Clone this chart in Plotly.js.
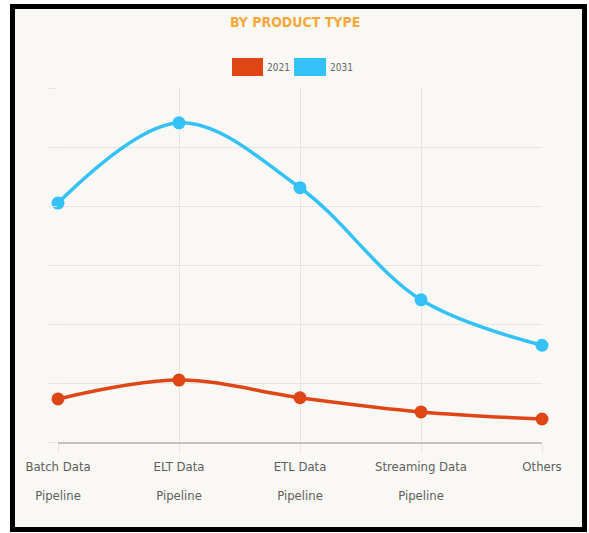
<!DOCTYPE html>
<html>
<head>
<meta charset="utf-8">
<script src="https://cdn.plot.ly/plotly-3.0.1.min.js"></script>
<style>
  html, body { margin: 0; padding: 0; background: #ffffff; width: 589px; height: 533px; overflow: hidden; }
  #frame { position: absolute; left: 10px; top: 4px; width: 567px; height: 518px; border: 5px solid #000000; background: #f9f8f4; }
  #chart { width: 567px; height: 518px; }
</style>
</head>
<body>
<div id="frame"><div id="chart"></div></div>
<script>
// ---- data ----
const categories = ["Batch Data Pipeline", "ELT Data Pipeline", "ETL Data Pipeline", "Streaming Data Pipeline", "Others"];
const tickLine1 = ["Batch Data", "ELT Data", "ETL Data", "Streaming Data", "Others"];
const tickLine2 = ["Pipeline", "Pipeline", "Pipeline", "Pipeline", ""];
const seriesNames = ["2021", "2031"];
const values2021 = [0.73, 1.05, 0.75, 0.51, 0.39];
const values2031 = [4.05, 5.41, 4.31, 2.41, 1.64];

// ---- style ----
const col2021 = "#df4616";
const col2031 = "#33c1f6";
const gridCol = "#e6e5e1";
const font = "'Liberation Sans Narrow', 'DejaVu Sans Condensed', 'Arial Narrow', sans-serif";

const tickText = tickLine1.map((t, i) =>
  '<span style="font-size:13px">' + t + '</span>' + (tickLine2[i] ? '<br><span style="font-size:13px">' + tickLine2[i] + '</span>' : '')
);

function trace(name, ys, color) {
  return {
    type: "scatter", mode: "lines+markers", name: name,
    x: categories, y: ys,
    line: { color: color, width: 3.5, shape: "spline", smoothing: 1 },
    marker: { color: color, size: 13 },
    cliponaxis: false,
    showlegend: false, hoverinfo: "x+y+name"
  };
}

const data = [trace(seriesNames[0], values2021, col2021), trace(seriesNames[1], values2031, col2031)];

const layout = {
  width: 567, height: 518,
  margin: { l: 43, r: 40, t: 79, b: 85 },
  paper_bgcolor: "#f9f8f4", plot_bgcolor: "#f9f8f4",
  font: { family: font, color: "#5e5e5e" },
  title: {
    text: "<b>BY PRODUCT TYPE</b>",
    font: { family: font, size: 14, color: "#f6a93a" },
    xref: "container", x: 0.494, xanchor: "center",
    yref: "container", y: 0.975, yanchor: "middle"
  },
  xaxis: {
    type: "category", range: [0, 4],
    tickmode: "array", tickvals: categories, ticktext: tickText,
    tickfont: { family: font, size: 22, color: "#5e5e5e" },
    ticklabelstandoff: -8,
    showgrid: true, gridcolor: gridCol, gridwidth: 1,
    ticks: "outside", ticklen: 9, tickcolor: gridCol,
    showline: true, linecolor: "#c4c3bf", linewidth: 1.5,
    zeroline: false, fixedrange: true
  },
  yaxis: {
    range: [0, 6], dtick: 1, tick0: 0,
    showticklabels: false,
    showgrid: true, gridcolor: gridCol, gridwidth: 1,
    ticks: "outside", ticklen: 8, tickcolor: gridCol,
    showline: false, zeroline: false, fixedrange: true
  },
  shapes: [
    { type: "rect", xref: "paper", yref: "paper", x0: 0.3595, x1: 0.4236, y0: 1.0339, y1: 1.0847, fillcolor: col2021, line: { width: 0 } },
    { type: "rect", xref: "paper", yref: "paper", x0: 0.4876, x1: 0.5537, y0: 1.0339, y1: 1.0847, fillcolor: col2031, line: { width: 0 } }
  ],
  annotations: [
    { xref: "paper", yref: "paper", x: 0.428, y: 1.0593, xanchor: "left", yanchor: "middle", text: seriesNames[0], showarrow: false, font: { family: font, size: 10, color: "#666666" } },
    { xref: "paper", yref: "paper", x: 0.558, y: 1.0593, xanchor: "left", yanchor: "middle", text: seriesNames[1], showarrow: false, font: { family: font, size: 10, color: "#666666" } }
  ]
};

Plotly.newPlot("chart", data, layout, { displayModeBar: false });
</script>
</body>
</html>
